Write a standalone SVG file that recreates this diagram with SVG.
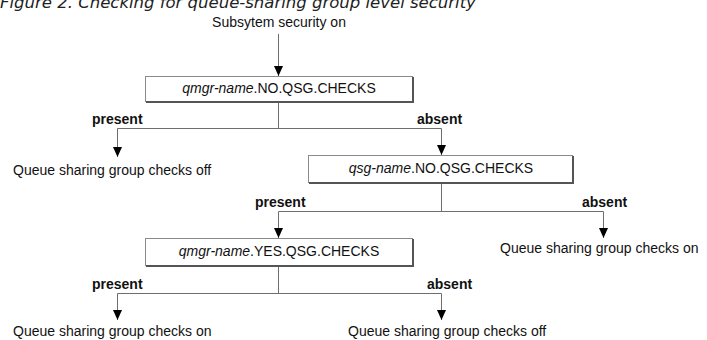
<svg xmlns="http://www.w3.org/2000/svg" width="707" height="340" viewBox="0 0 707 340">
  <style>
    .t { font-family: "Liberation Sans", Arial, sans-serif; font-size: 14px; fill: #111; }
    .b { font-weight: bold; }
    .i { font-style: italic; }
    .title { font-family: "DejaVu Sans", Verdana, sans-serif; font-size: 16.5px; font-style: italic; fill: #222; }
    .box { fill: #fff; stroke: #8a8a8a; stroke-width: 1; }
    .shadow { fill: none; stroke: #555; stroke-width: 2; }
    .ln { fill: none; stroke: #6e6e6e; stroke-width: 1; }
  </style>
  <defs>
    <marker id="arrow" viewBox="0 0 10 10" refX="10" refY="5" markerWidth="10" markerHeight="10" markerUnits="userSpaceOnUse" orient="auto">
      <path d="M0,0.5 L10,5 L0,9.5 Z" fill="#000"/>
    </marker>
  </defs>

  <!-- caption, partly clipped by the top edge -->
  <text class="title" x="0" y="8">Figure 2. Checking for queue-sharing group level security</text>

  <g id="start">
    <text class="t" x="279" y="27" text-anchor="middle">Subsytem security on</text>
  </g>

  <g id="connectors">
    <!-- start to first check -->
    <line class="ln" x1="278.5" y1="34" x2="278.5" y2="76" marker-end="url(#arrow)"/>
    <!-- first check branches -->
    <polyline class="ln" points="278.5,102 278.5,128.5"/>
    <polyline class="ln" points="117.5,128.5 441.5,128.5 441.5,155" marker-end="url(#arrow)"/>
    <line class="ln" x1="117.5" y1="128.5" x2="117.5" y2="157" marker-end="url(#arrow)"/>
    <!-- second check branches -->
    <polyline class="ln" points="441.5,183 441.5,211.5"/>
    <polyline class="ln" points="278.5,211.5 603.5,211.5 603.5,238" marker-end="url(#arrow)"/>
    <line class="ln" x1="278.5" y1="211.5" x2="278.5" y2="238" marker-end="url(#arrow)"/>
    <!-- third check branches -->
    <polyline class="ln" points="278.5,266 278.5,293.5"/>
    <polyline class="ln" points="117.5,293.5 441.5,293.5 441.5,320" marker-end="url(#arrow)"/>
    <line class="ln" x1="117.5" y1="293.5" x2="117.5" y2="320" marker-end="url(#arrow)"/>
  </g>

  <g id="labels">
    <text class="t b" x="92" y="124">present</text>
    <text class="t b" x="417" y="124">absent</text>
    <text class="t b" x="255" y="207">present</text>
    <text class="t b" x="582" y="207">absent</text>
    <text class="t b" x="92" y="289">present</text>
    <text class="t b" x="427" y="289">absent</text>
  </g>

  <g id="check-qmgr-no">
    <rect class="box" x="145.5" y="76.5" width="267" height="25"/>
    <polyline class="shadow" points="146,102 413,102 413,77"/>
    <text class="t" x="279" y="93" text-anchor="middle"><tspan class="i">qmgr-name</tspan>.NO.QSG.CHECKS</text>
  </g>

  <g id="result-off-1">
    <text class="t" x="13" y="175">Queue sharing group checks off</text>
  </g>

  <g id="check-qsg-no">
    <rect class="box" x="308.5" y="155.5" width="264" height="27"/>
    <polyline class="shadow" points="309,183 573,183 573,156"/>
    <text class="t" x="441" y="173" text-anchor="middle"><tspan class="i">qsg-name</tspan>.NO.QSG.CHECKS</text>
  </g>

  <g id="result-on-1">
    <text class="t" x="500" y="253">Queue sharing group checks on</text>
  </g>

  <g id="check-qmgr-yes">
    <rect class="box" x="145.5" y="238.5" width="267" height="27"/>
    <polyline class="shadow" points="146,266 413,266 413,239"/>
    <text class="t" x="279" y="256" text-anchor="middle"><tspan class="i">qmgr-name</tspan>.YES.QSG.CHECKS</text>
  </g>

  <g id="result-on-2">
    <text class="t" x="13" y="336">Queue sharing group checks on</text>
  </g>

  <g id="result-off-2">
    <text class="t" x="348" y="336">Queue sharing group checks off</text>
  </g>
</svg>
